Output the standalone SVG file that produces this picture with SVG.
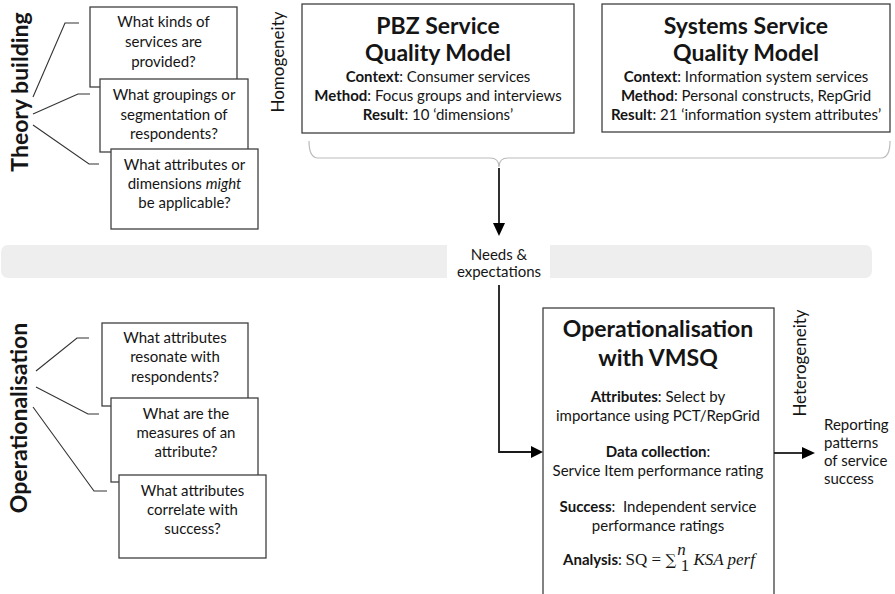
<svg xmlns="http://www.w3.org/2000/svg" width="895" height="594" viewBox="0 0 895 594">
<style>
text{font-family:Lato,"Liberation Sans",sans-serif;fill:#151515}
.q{font-size:15px;text-anchor:middle}
.t{font-size:15px;text-anchor:middle}
.h{font-size:23px;font-weight:bold;text-anchor:middle}
.side{font-size:23px;font-weight:bold;text-anchor:middle}
.gen{font-size:17px;text-anchor:middle}
.b{font-weight:bold}
.box{fill:#fff;stroke:#404040;stroke-width:1.3}
.ln{fill:none;stroke:#333;stroke-width:1.1}
.arr{fill:none;stroke:#1a1a1a;stroke-width:1.8}
.head{fill:#000}
.m{font-family:"Liberation Serif",serif;font-size:17px}
</style>
<rect x="1" y="245" width="871" height="33" rx="7" fill="#eeeeee"/>
<rect x="447" y="242" width="103" height="40" fill="#fff"/>
<g id="theory-label"><text class="side" transform="translate(28,92) rotate(-90)">Theory building</text></g>
<g id="oper-label"><text class="side" transform="translate(27,418) rotate(-90)">Operationalisation</text></g>
<g id="homogeneity"><text class="gen" transform="translate(284,62) rotate(-90)">Homogeneity</text></g>
<g id="heterogeneity"><text class="gen" transform="translate(806,363) rotate(-90)">Heterogeneity</text></g>
<g id="q1"><rect class="box" x="90" y="7" width="147" height="80"/><text class="q" x="163.5" y="27">What kinds of</text><text class="q" x="163.5" y="47">services are</text><text class="q" x="163.5" y="67">provided?</text></g>
<g id="q2"><rect class="box" x="100" y="79" width="148" height="73"/><text class="q" x="174" y="100">What groupings or</text><text class="q" x="174" y="120">segmentation of</text><text class="q" x="174" y="139">respondents?</text></g>
<g id="q3"><rect class="box" x="111" y="149" width="147" height="80"/><text class="q" x="184.5" y="170">What attributes or</text><text class="q" x="184.5" y="189">dimensions <tspan font-style="italic">might</tspan></text><text class="q" x="184.5" y="208">be applicable?</text></g>
<g id="q4"><rect class="box" x="102" y="323" width="146" height="83"/><text class="q" x="175" y="343">What attributes</text><text class="q" x="175" y="362">resonate with</text><text class="q" x="175" y="382">respondents?</text></g>
<g id="q5"><rect class="box" x="111" y="398" width="147" height="84"/><text class="q" x="186" y="419">What are the</text><text class="q" x="186" y="438">measures of an</text><text class="q" x="186" y="457">attribute?</text></g>
<g id="q6"><rect class="box" x="119" y="475" width="147" height="83"/><text class="q" x="192.5" y="496">What attributes</text><text class="q" x="192.5" y="515">correlate with</text><text class="q" x="192.5" y="534">success?</text></g>
<g id="pbz"><rect class="box" x="302" y="4" width="272" height="129" stroke-width="1.5"/><text class="h" x="438" y="34">PBZ Service</text><text class="h" x="438" y="61">Quality Model</text><text class="t" x="438" y="82"><tspan class="b">Context</tspan>: Consumer services</text><text class="t" x="438" y="101"><tspan class="b">Method</tspan>: Focus groups and interviews</text><text class="t" x="438" y="120"><tspan class="b">Result</tspan>: 10 ‘dimensions’</text></g>
<g id="ssqm"><rect class="box" x="602" y="4" width="288" height="128" stroke-width="1.5"/><text class="h" x="746" y="34">Systems Service</text><text class="h" x="746" y="61">Quality Model</text><text class="t" x="746" y="82"><tspan class="b">Context</tspan>: Information system services</text><text class="t" x="746" y="101"><tspan class="b">Method</tspan>: Personal constructs, RepGrid</text><text class="t" x="746" y="120"><tspan class="b">Result</tspan>: 21 ‘information system attributes’</text></g>
<g id="needs"><text class="t" x="499" y="260">Needs &amp;</text><text class="t" x="499" y="277">expectations</text></g>
<g id="vmsq"><rect class="box" x="543" y="308" width="231" height="300" stroke-width="1.5"/><text class="h" x="658" y="337">Operationalisation</text><text class="h" x="658" y="366">with VMSQ</text><text class="t" x="658" y="402"><tspan class="b">Attributes</tspan>: Select by</text><text class="t" x="658" y="421">importance using PCT/RepGrid</text><text class="t" x="658" y="457"><tspan class="b">Data collection</tspan>:</text><text class="t" x="658" y="476">Service Item performance rating</text><text class="t" x="658" y="512"><tspan class="b">Success</tspan>:&#160; Independent service</text><text class="t" x="658" y="531">performance ratings</text><text class="t" x="659" y="565"><tspan class="b">Analysis</tspan>: <tspan class="m">SQ = </tspan><tspan font-family="DejaVu Serif,serif" font-size="15">∑</tspan><tspan class="m" font-size="9" font-style="italic" dx="1" dy="-10">n</tspan><tspan class="m" font-size="9" dx="-5" dy="16">1</tspan><tspan class="m" font-style="italic" dy="-6"> KSA perf</tspan></text></g>
<g id="reporting"><text font-size="15" x="824" y="430">Reporting</text><text font-size="15" x="824" y="448">patterns</text><text font-size="15" x="824" y="466">of service</text><text font-size="15" x="824" y="484">success</text></g>
<g id="connectors">
<polyline class="ln" points="33,97 65,23 79,23"/>
<polyline class="ln" points="33,114 78,94 90,94"/>
<polyline class="ln" points="33,125 89,164 99,164"/>
<polyline class="ln" points="36,371 77,338 89,338"/>
<polyline class="ln" points="36,387 88,414 99,414"/>
<polyline class="ln" points="33,407 94,491 107,491"/>
<path d="M309 141 Q309 158 318 158 L490 158 Q499 158 499 167 Q499 158 508 158 L881 158 Q890 158 890 141" fill="none" stroke="#bbbbbb" stroke-width="1.2"/>
<line class="arr" x1="499" y1="168" x2="499" y2="224"/>
<polygon class="head" points="493,223 505,223 499,236"/>
<polyline class="arr" points="499,285 499,452 532,452"/>
<polygon class="head" points="531,446 531,458 543,452"/>
<line class="arr" x1="774" y1="453" x2="803" y2="453"/>
<polygon class="head" points="802,447 802,459 815,453"/>
</g>
</svg>
